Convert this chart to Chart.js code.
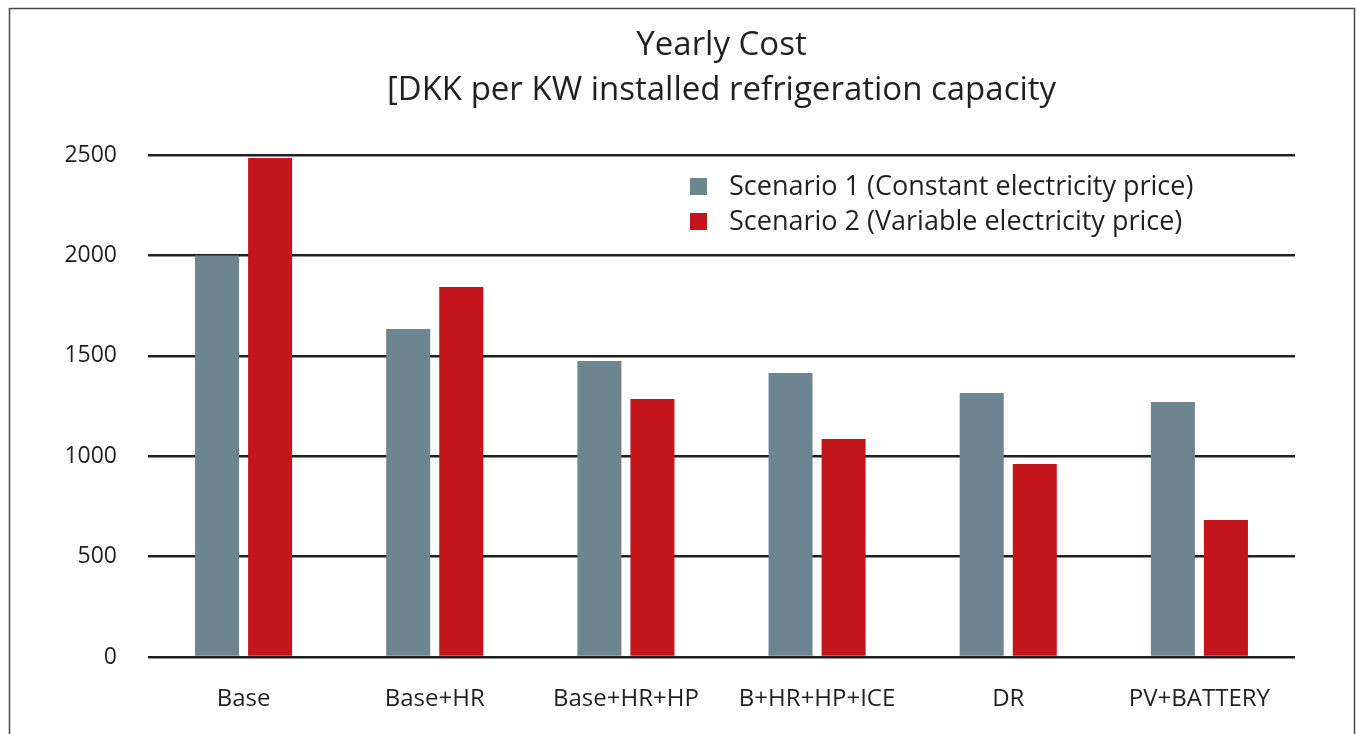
<!DOCTYPE html>
<html>
<head>
<meta charset="utf-8">
<script src="https://cdn.jsdelivr.net/npm/chart.js@4/dist/chart.umd.min.js"></script>
<style>
  html, body { margin: 0; padding: 0; background: #fff; }
  #wrap { width: 1357px; height: 734px; position: relative; }
</style>
</head>
<body>
<div id="wrap"><canvas id="c" width="1357" height="734"></canvas></div>
<script>
const categories = ["Base", "Base+HR", "Base+HR+HP", "B+HR+HP+ICE", "DR", "PV+BATTERY"];
const scenario1 = [2000, 1633, 1474, 1414, 1315, 1270];
const scenario2 = [2485, 1843, 1285, 1086, 961, 682];
const seriesNames = ["Scenario 1 (Constant electricity price)", "Scenario 2 (Variable electricity price)"];
const titleLines = ["Yearly Cost", "[DKK per KW installed refrigeration capacity"];
const yTicks = [0, 500, 1000, 1500, 2000, 2500];

const FONT = "'Open Sans', 'Noto Sans', sans-serif";
const INK = "#231f20";

const framePlugin = {
  id: 'frame',
  beforeDraw(chart) {
    const ctx = chart.ctx;
    ctx.save();
    ctx.fillStyle = '#fff';
    ctx.fillRect(0, 0, chart.width, chart.height);
    ctx.strokeStyle = '#4a4a4a';
    ctx.lineWidth = 1.5;
    ctx.beginPath();
    ctx.moveTo(9.5, 740);
    ctx.lineTo(9.5, 8.5);
    ctx.lineTo(1354.5, 8.5);
    ctx.lineTo(1354.5, 740);
    ctx.stroke();
    ctx.restore();
  }
};

const titlePlugin = {
  id: 'centeredTitle',
  afterDraw(chart) {
    const ctx = chart.ctx;
    const a = chart.chartArea;
    const cx = (a.left + a.right) / 2;
    ctx.save();
    ctx.font = "33px " + FONT;
    ctx.fillStyle = INK;
    ctx.textAlign = 'center';
    ctx.textBaseline = 'middle';
    titleLines.forEach((t, i) => ctx.fillText(t, cx, 46 + i * 45));
    ctx.restore();
  }
};

const legendPlugin = {
  id: 'customLegend',
  afterDraw(chart) {
    const ctx = chart.ctx;
    ctx.save();
    ctx.font = "27px " + FONT;
    ctx.textBaseline = 'middle';
    chart.data.datasets.forEach((ds, i) => {
      const cy = 186 + i * 35;
      ctx.fillStyle = ds.backgroundColor;
      ctx.fillRect(690, cy - 8, 17, 17);
      ctx.fillStyle = INK;
      ctx.fillText(ds.label, 729, cy + 1);
    });
    ctx.restore();
  }
};

new Chart(document.getElementById('c'), {
  type: 'bar',
  data: {
    labels: categories,
    datasets: [
      { label: seriesNames[0], data: scenario1, backgroundColor: '#6c8591' },
      { label: seriesNames[1], data: scenario2, backgroundColor: '#c4151c' }
    ]
  },
  options: {
    responsive: false,
    animation: false,
    devicePixelRatio: 1,
    categoryPercentage: 0.555,
    barPercentage: 0.83,
    layout: { padding: { left: 0, right: 62, top: 155, bottom: 0 } },
    plugins: {
      legend: { display: false },
      tooltip: { enabled: false },
      title: { display: false }
    },
    scales: {
      x: {
        grid: { display: false, drawTicks: false },
        border: { display: false },
        ticks: { color: INK, font: { family: FONT, size: 24 }, padding: 28 },
        afterFit(scale) { scale.height = 77; }
      },
      y: {
        min: 0,
        max: 2500,
        afterBuildTicks(scale) { scale.ticks = yTicks.map(v => ({ value: v })); },
        grid: { color: INK, lineWidth: 2.5, drawTicks: false },
        border: { display: false },
        ticks: {
          color: INK,
          font: { family: FONT, size: 23 },
          padding: 31,
          callback: (v) => String(v)
        },
        afterFit(scale) { scale.width = 148; }
      }
    }
  },
  plugins: [framePlugin, titlePlugin, legendPlugin]
});
</script>
</body>
</html>
